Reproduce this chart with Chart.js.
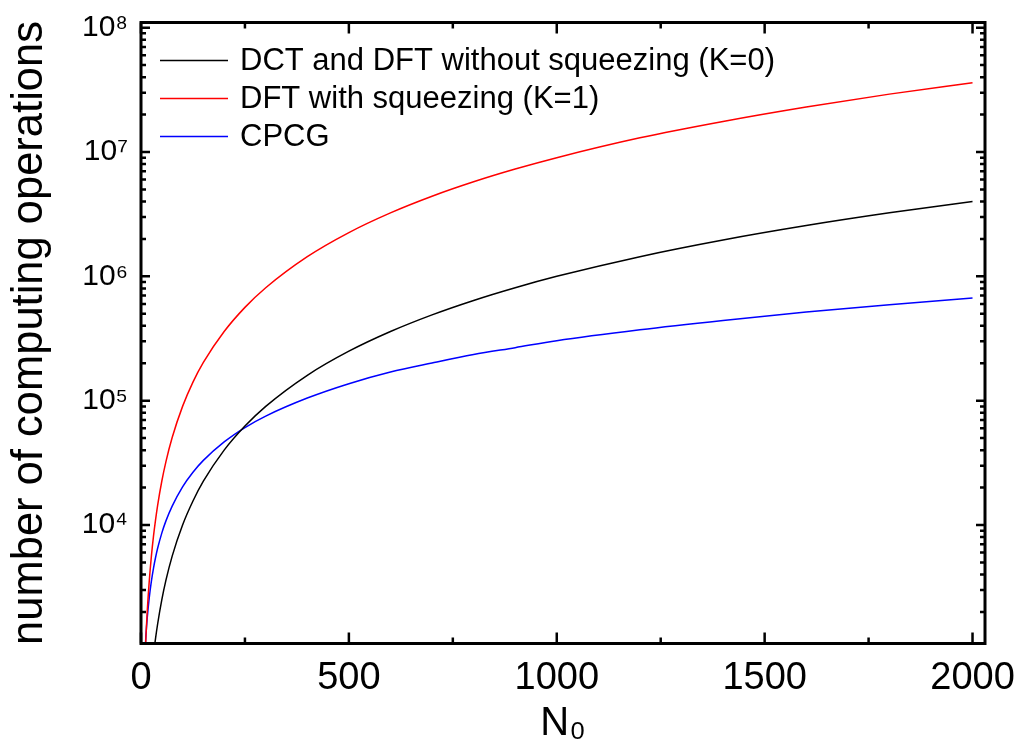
<!DOCTYPE html>
<html><head><meta charset="utf-8">
<script src="https://cdn.jsdelivr.net/npm/chart.js@4.4.1/dist/chart.umd.min.js"></script>
<style>html,body{margin:0;padding:0;background:#fff;overflow:hidden}#wrap{width:1024px;height:756px}</style>
</head><body><div id="wrap"><canvas id="c" width="1024" height="756"></canvas></div>
<script>
// N0 sample positions read along the x axis
const nValues = [10,12,15,20,25,30,35,40,50,60,75,100,125,150,200,250,300,400,500,600,700,800,900,1000,1200,1400,1600,1800,2000];
// DCT and DFT without squeezing (K=0)
const dctNoSqueeze = [100,144,225,400,625,900,1225,1600,2500,3600,5625,1.0e4,1.56e4,2.25e4,4.0e4,6.25e4,9.0e4,1.6e5,2.5e5,3.6e5,4.9e5,6.4e5,8.1e5,1.0e6,1.44e6,1.96e6,2.56e6,3.24e6,4.0e6];
// DFT with squeezing (K=1)
const dftSqueeze = [900,1296,2025,3600,5625,8100,1.10e4,1.44e4,2.25e4,3.24e4,5.06e4,9.0e4,1.41e5,2.03e5,3.6e5,5.63e5,8.1e5,1.44e6,2.25e6,3.24e6,4.41e6,5.76e6,7.29e6,9.0e6,1.30e7,1.76e7,2.30e7,2.92e7,3.6e7];
// CPCG
const cpcg = [1010,1310,1790,2630,3540,4490,5480,6500,8610,1.08e4,1.42e4,2.03e4,2.66e4,3.31e4,4.66e4,6.08e4,7.52e4,1.05e5,1.37e5,1.70e5,2.01e5,2.35e5,2.67e5,3.04e5,3.72e5,4.42e5,5.17e5,5.92e5,6.69e5];

const seriesLabels = ['DCT and DFT without squeezing (K=0)','DFT with squeezing (K=1)','CPCG'];
const seriesColors = ['#000000','#ff0000','#0000ff'];
const xTickValues = [0,500,1000,1500,2000];
const xMinorStep = 250;
const yTickExponents = [4,5,6,7,8];
const xRange = [0,2030];
const yRange = [1115,1.1e8];
const xTitle = 'N\u2080';
const yTitle = 'number of computing operations';

const FONT = "'Liberation Sans', Arial, sans-serif";
const sup = {'0':'\u2070','1':'\u00b9','2':'\u00b2','3':'\u00b3','4':'\u2074','5':'\u2075','6':'\u2076','7':'\u2077','8':'\u2078','9':'\u2079'};

const seriesData = [dctNoSqueeze, dftSqueeze, cpcg];
const datasets = seriesData.map((arr,i)=>({
  label: seriesLabels[i],
  data: nValues.map((n,j)=>({x:n,y:arr[j]})),
  borderColor: seriesColors[i],
  backgroundColor: seriesColors[i],
  borderWidth: 1.5,
  pointRadius: 0,
  cubicInterpolationMode: 'monotone',
  fill: false
}));

const framePlugin = {
  id: 'frame',
  afterDraw(chart){
    const ctx = chart.ctx, a = chart.chartArea;
    const xs = chart.scales.x, ys = chart.scales.y;
    ctx.save();
    ctx.strokeStyle = '#000';
    ctx.lineWidth = 2.5;
    ctx.beginPath();
    for (let v = xRange[0]; v <= xRange[1]; v += xMinorStep){
      const px = xs.getPixelForValue(v);
      const len = (v % 500 === 0) ? 11 : 6;
      ctx.moveTo(px, a.bottom); ctx.lineTo(px, a.bottom - len);
      ctx.moveTo(px, a.top); ctx.lineTo(px, a.top + len);
    }
    for (let e = 3; e <= 8; e++){
      for (let k = 1; k <= 9; k++){
        const v = k * Math.pow(10, e);
        if (v < yRange[0] || v > yRange[1]) continue;
        const py = ys.getPixelForValue(v);
        const len = k === 1 ? 9 : 5;
        ctx.moveTo(a.left, py); ctx.lineTo(a.left + len, py);
        ctx.moveTo(a.right, py); ctx.lineTo(a.right - len, py);
      }
    }
    ctx.stroke();
    ctx.lineWidth = 3;
    ctx.strokeRect(a.left, a.top, a.right - a.left, a.bottom - a.top);
    // legend
    ctx.font = '31px ' + FONT;
    ctx.textBaseline = 'middle';
    ctx.textAlign = 'left';
    chart.data.datasets.forEach((ds,i)=>{
      const y = a.top + 38 + i * 38;
      ctx.strokeStyle = ds.borderColor;
      ctx.lineWidth = 1.5;
      ctx.beginPath();
      ctx.moveTo(a.left + 19, y); ctx.lineTo(a.left + 87, y);
      ctx.stroke();
      ctx.fillStyle = '#000';
      ctx.fillText(ds.label, a.left + 99, y + 1);
    });
    ctx.restore();
  }
};

new Chart(document.getElementById('c'), {
  type: 'line',
  data: { datasets },
  options: {
    responsive: false,
    animation: false,
    devicePixelRatio: 1,
    layout: { padding: { top: 22.5, right: 39, left: 0, bottom: 0 } },
    plugins: { legend: { display: false }, tooltip: { enabled: false } },
    scales: {
      x: {
        type: 'linear', min: xRange[0], max: xRange[1],
        grid: { display: false, drawTicks: false },
        border: { display: false },
        afterBuildTicks: s => { s.ticks = xTickValues.map(v=>({value:v})); },
        afterFit: s => { s.height = 112.5; s.paddingLeft = 0; s.paddingRight = 0; },
        ticks: { color: '#000', font: { family: FONT, size: 38 }, padding: 12, maxRotation: 0, autoSkip: false,
          callback: v => String(v) },
        title: { display: true, text: xTitle, color: '#000', font: { family: FONT, size: 40 }, padding: { top: 0, bottom: 8 } }
      },
      y: {
        type: 'logarithmic', min: yRange[0], max: yRange[1],
        grid: { display: false, drawTicks: false },
        border: { display: false },
        afterBuildTicks: s => { s.ticks = yTickExponents.map(e=>({value:Math.pow(10,e)})); },
        afterFit: s => { s.width = 141; s.paddingTop = 0; s.paddingBottom = 0; },
        ticks: { color: '#000', font: { family: FONT, size: 30 }, padding: 13, autoSkip: false,
          callback: v => { const e = Math.round(Math.log10(v)); return '10' + String(e).split('').map(c=>sup[c]).join(''); } },
        title: { display: true, text: yTitle, color: '#000', font: { family: FONT, size: 43.5 }, padding: { top: 4, bottom: 0 } }
      }
    }
  },
  plugins: [framePlugin]
});
</script></body></html>
